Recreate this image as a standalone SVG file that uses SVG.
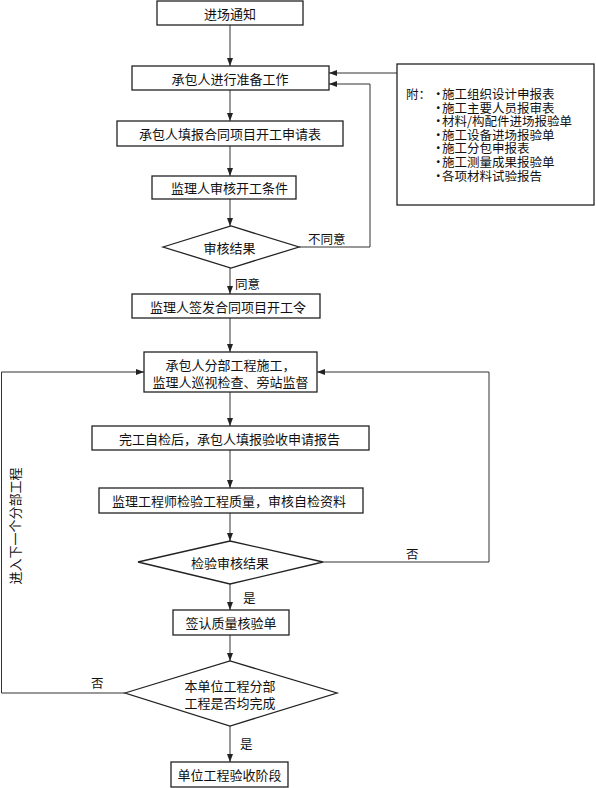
<svg xmlns="http://www.w3.org/2000/svg" width="596" height="788" viewBox="0 0 596 788">
<defs>
<marker id="arr" markerUnits="userSpaceOnUse" markerWidth="8" markerHeight="6" refX="8" refY="3" orient="auto">
<path d="M0,0 L8,3 L0,6 z" fill="#222"/>
</marker>
<style>
.box{fill:#fff;stroke:#222;stroke-width:1.3}
.t{font-family:"Noto Sans CJK SC","Noto Sans",sans-serif;font-size:13px;fill:#111;text-anchor:middle;dominant-baseline:central}
.l{font-family:"Noto Sans CJK SC","Noto Sans",sans-serif;font-size:12.5px;fill:#111;dominant-baseline:central}
.c{fill:none;stroke:#333;stroke-width:1}
.ca{fill:none;stroke:#333;stroke-width:1;marker-end:url(#arr)}
</style>
</defs>
<rect width="596" height="788" fill="#fff"/>
<g id="connectors">
<line class="ca" x1="230" y1="25" x2="230" y2="66"/>
<line class="ca" x1="230" y1="90" x2="230" y2="121"/>
<line class="ca" x1="230" y1="146" x2="230" y2="176"/>
<line class="ca" x1="230" y1="199" x2="230" y2="226"/>
<line class="ca" x1="230" y1="268" x2="230" y2="294"/>
<line class="ca" x1="230" y1="318" x2="230" y2="352"/>
<line class="ca" x1="230" y1="392" x2="230" y2="426"/>
<line class="ca" x1="230" y1="450" x2="230" y2="488"/>
<line class="ca" x1="230" y1="513" x2="230" y2="541"/>
<line class="ca" x1="230" y1="584" x2="230" y2="610"/>
<line class="ca" x1="230" y1="635" x2="230" y2="661"/>
<line class="ca" x1="230" y1="726" x2="230" y2="762"/>
<polyline class="ca" points="299,247 370,247 370,84 329,84"/>
<line class="ca" x1="397" y1="73" x2="329" y2="73"/>
<polyline class="ca" points="323,562 489,562 489,372 317,372"/>
<polyline class="ca" points="125,693 1.5,693 1.5,372 144,372"/>
<text class="l" x="308" y="238">不同意</text>
<text class="l" x="235" y="283">同意</text>
<text class="l" x="406" y="553">否</text>
<text class="l" x="243" y="597">是</text>
<text class="l" x="91" y="682">否</text>
<text class="l" x="240" y="743">是</text>
<text class="t" transform="translate(14,526) rotate(-90)">进入下一个分部工程</text>
</g>
<g id="n1"><rect class="box" x="157" y="1" width="146" height="24"/><text class="t" x="230" y="13">进场通知</text></g>
<g id="n2"><rect class="box" x="132" y="66" width="197" height="24"/><text class="t" x="230" y="78">承包人进行准备工作</text></g>
<g id="n3"><rect class="box" x="117" y="121" width="226" height="25"/><text class="t" x="230" y="133.5">承包人填报合同项目开工申请表</text></g>
<g id="n4"><rect class="box" x="152" y="176" width="144" height="23"/><text class="t" x="229.5" y="187.5">监理人审核开工条件</text></g>
<g id="d1"><polygon class="box" points="163,247 231,226 299,247 231,268"/><text class="t" x="229.5" y="247">审核结果</text></g>
<g id="n5"><rect class="box" x="132" y="294" width="188" height="24"/><text class="t" x="228" y="306">监理人签发合同项目开工令</text></g>
<g id="n6"><rect class="box" x="144" y="352" width="173" height="40"/><text class="t" x="230.5" y="364">承包人分部工程施工，</text><text class="t" x="230.5" y="381">监理人巡视检查、旁站监督</text></g>
<g id="n7"><rect class="box" x="92" y="426" width="277" height="24"/><text class="t" x="229.5" y="438">完工自检后，承包人填报验收申请报告</text></g>
<g id="n8"><rect class="box" x="99" y="488" width="264" height="25"/><text class="t" x="229" y="500.5">监理工程师检验工程质量，审核自检资料</text></g>
<g id="d2"><polygon class="box" points="138,562 230,541 323,562 230,584"/><text class="t" x="230" y="562">检验审核结果</text></g>
<g id="n9"><rect class="box" x="173" y="610" width="116" height="25"/><text class="t" x="231" y="622.5">签认质量核验单</text></g>
<g id="d3"><polygon class="box" points="125,693 230,661 337,693 230,726"/><text class="t" x="230" y="685">本单位工程分部</text><text class="t" x="230" y="702">工程是否均完成</text></g>
<g id="n10"><rect class="box" x="171" y="762" width="117" height="25"/><text class="t" x="229.5" y="774.5">单位工程验收阶段</text></g>
<g id="attach">
<rect class="box" x="397" y="64" width="197" height="141"/>
<text class="l" x="406" y="93">附：</text>
<text class="l" x="432" y="93">·</text><text class="l" x="442" y="93">施工组织设计申报表</text>
<text class="l" x="432" y="107">·</text><text class="l" x="442" y="107">施工主要人员报审表</text>
<text class="l" x="432" y="120">·</text><text class="l" x="442" y="120">材料/构配件进场报验单</text>
<text class="l" x="432" y="134">·</text><text class="l" x="442" y="134">施工设备进场报验单</text>
<text class="l" x="432" y="147">·</text><text class="l" x="442" y="147">施工分包申报表</text>
<text class="l" x="432" y="161">·</text><text class="l" x="442" y="161">施工测量成果报验单</text>
<text class="l" x="432" y="175">·</text><text class="l" x="442" y="175">各项材料试验报告</text>
</g>
</svg>
